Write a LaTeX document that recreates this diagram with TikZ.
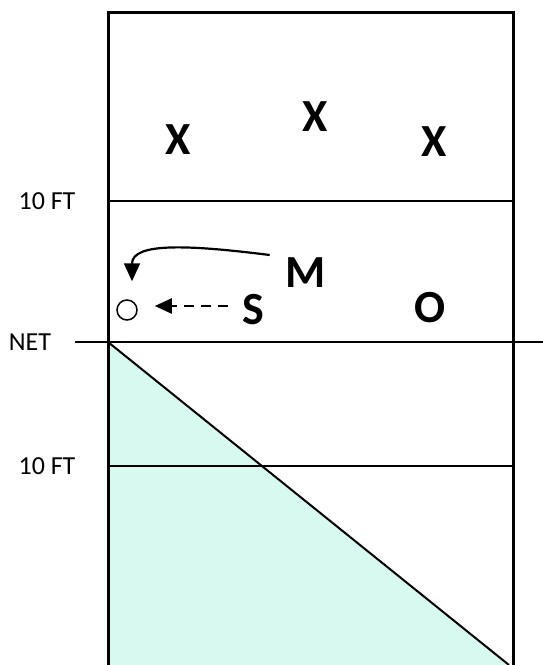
\documentclass[tikz,border=0pt]{standalone}
\usepackage{fontspec}
\setmainfont{Carlito}
\usetikzlibrary{arrows.meta, calc}
\definecolor{mint}{RGB}{216,249,239}
\tikzstyle{courtline} = [line width=2pt, black]
\tikzstyle{sidelabel} = [font=\fontsize{26}{30}\selectfont, inner sep=0pt]
\tikzstyle{player} = [font=\fontsize{46}{50}\selectfont\bfseries, inner sep=0pt]
\tikzstyle{runarrow} = [line width=2.2pt, -{Triangle[length=18pt,width=16pt]}]
\tikzstyle{passarrow} = [line width=2.2pt, dash pattern=on 10pt off 7pt, -{Triangle[length=17pt,width=15pt]}]

\begin{document}
\begin{tikzpicture}[x=1pt, y=-1pt]
\useasboundingbox (0,0) rectangle (543,665);

% Court
\fill[mint] (108,342) -- (509,665) -- (108,665) -- cycle;
\draw[courtline] (108,342) -- (509,665);
\draw[courtline] (108,201) -- (513,201);
\draw[courtline] (75,342) -- (543,342);
\draw[courtline] (108,466) -- (513,466);
\draw[line width=3pt] (108,665) -- (108,12) -- (513,12) -- (513,665);

% Labels
\node (tenup) [sidelabel] at (47,201) {10 FT};
\node (net) [sidelabel] at (30,342) {NET};
\node (tendown) [sidelabel] at (47,466) {10 FT};

% Players
\node (xleft) [player] at (178,140) {X};
\node (xmid) [player] at (315,117) {X};
\node (xright) [player] at (434,142) {X};
\node (m) [player] at (306,273) {M};
\node (s) [player] at (253,310) {S};
\node (o) [player] at (430,308) {O};
\node (ball) [circle, draw, line width=1.5pt, minimum size=20pt, inner sep=0pt] at (127,310) {};

% Arrows
\draw[runarrow] ($(m.west)+(-16,-18)$) .. controls (190,245) and (132,242) .. ($(ball.north)+(5,-18)$);
\draw[passarrow, shorten <=14pt, shorten >=17pt] ([yshift=4pt]s.west) -- ([yshift=4pt]ball.east);

\end{tikzpicture}
\end{document}
